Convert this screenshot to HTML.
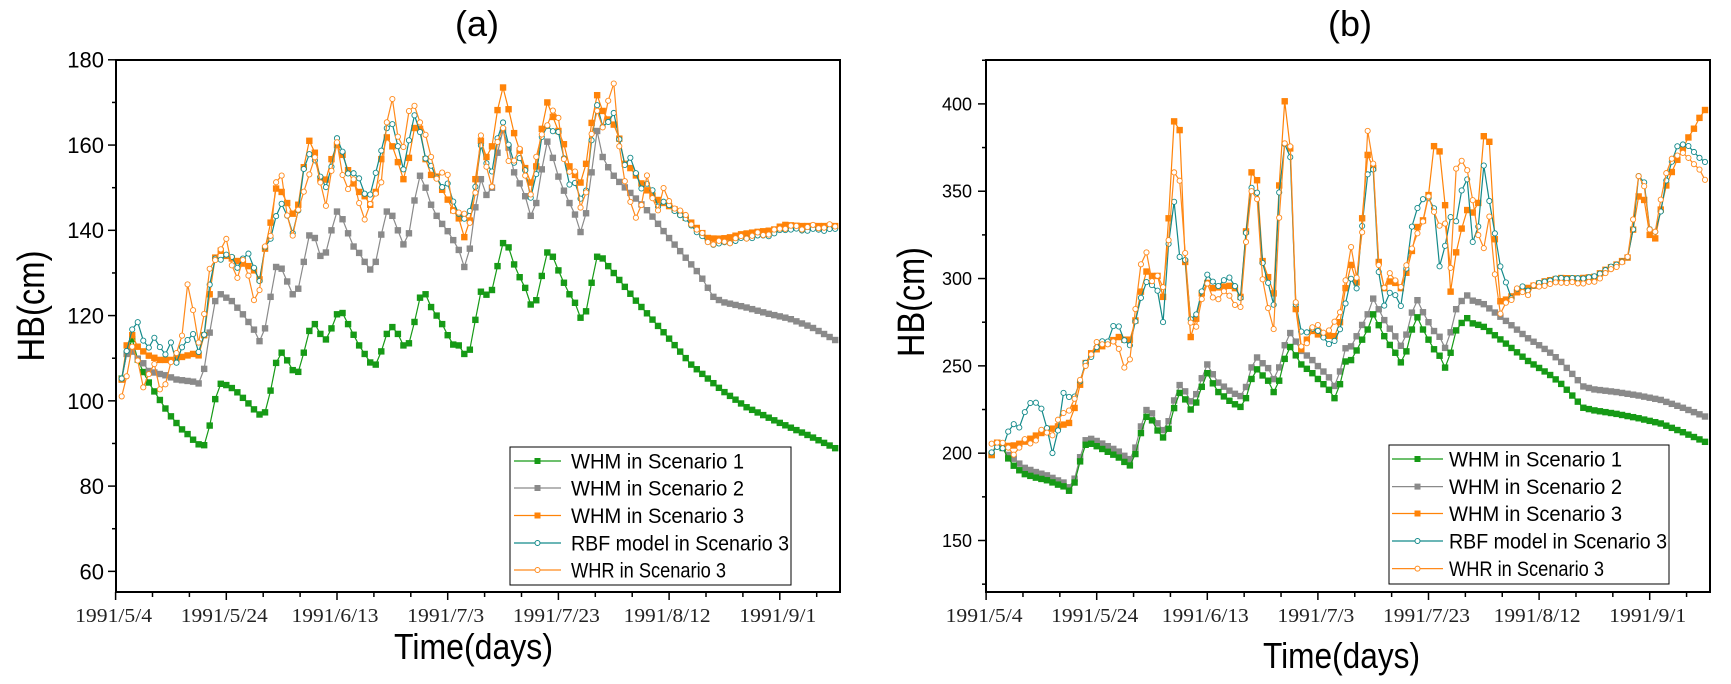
<!DOCTYPE html>
<html><head><meta charset="utf-8"><style>
html,body{margin:0;padding:0;background:#fff;}
svg{display:block;}
text{font-family:"Liberation Sans",sans-serif;}
.xl{font-family:"Liberation Serif",serif;font-size:20px;fill:#222;}
</style></head><body>
<svg id="s" width="1731" height="684" viewBox="0 0 1731 684" xmlns="http://www.w3.org/2000/svg">
<rect width="1731" height="684" fill="#fff"/>
<text x="477" y="36" font-size="36" text-anchor="middle">(a)</text>
<text x="1350" y="36" font-size="36" text-anchor="middle">(b)</text>
<text transform="translate(44,306) rotate(-90)" font-size="38" text-anchor="middle" textLength="111" lengthAdjust="spacingAndGlyphs">HB(cm)</text>
<text transform="translate(924,302) rotate(-90)" font-size="38" text-anchor="middle" textLength="110" lengthAdjust="spacingAndGlyphs">HB(cm)</text>
<text x="394" y="659" font-size="36" textLength="159" lengthAdjust="spacingAndGlyphs">Time(days)</text>
<text x="1263" y="668" font-size="36" textLength="157" lengthAdjust="spacingAndGlyphs">Time(days)</text>
<g id="g"></g>
</svg>
<script>
var NS="http://www.w3.org/2000/svg",G=document.getElementById('g');
function el(t,a,txt){var e=document.createElementNS(NS,t);for(var k in a)e.setAttribute(k,a[k]);if(txt!=null)e.textContent=txt;G.appendChild(e);return e;}
function interp(kp,d){for(var i=0;i<kp.length-2;i+=2){if(d<=kp[i+2]){var t=(d-kp[i])/(kp[i+2]-kp[i]);return kp[i+1]+t*(kp[i+3]-kp[i+1]);}}return kp[kp.length-1];}
function daily(kp){var r=[[kp[0],kp[1]]];for(var d=Math.ceil(kp[0]+0.01);d<=kp[kp.length-2];d++)r.push([d,interp(kp,d)]);return r;}
function derive(base,dk,amp,ph){return base.map(function(p){return [p[0],p[1]+interp(dk,p[0])+amp*Math.sin(p[0]*1.9+ph)*(p[0]<100?1:0.15)];});}
function plot(P,pts,col,mk,lw){
 var s="";pts.forEach(function(p,i){s+=(i?"L":"M")+P.x(p[0]).toFixed(1)+","+P.y(p[1]).toFixed(1);});
 el('path',{d:s,fill:'none',stroke:col,'stroke-width':lw||1.2});
 pts.forEach(function(p){var x=P.x(p[0]),y=P.y(p[1]);
  if(mk=='sq')el('rect',{x:x-3.2,y:y-3.2,width:6.4,height:6.4,fill:col});
  else el('circle',{cx:x,cy:y,r:2.6,fill:'#fff',stroke:col,'stroke-width':0.9});});
}
function axes(P,ymin,ymax,ymaj,ymin2,labelsY,fs,lx){
 var L=P.L,R=P.R,T=P.T,B=P.B;
 el('rect',{x:L,y:T,width:R-L,height:B-T,fill:'none',stroke:'#000','stroke-width':2});
 for(var v=ymin;v<=ymax;v+=ymin2){var y=P.y(v);if(y<T-1||y>B+1)continue;var maj=labelsY.indexOf(v)>=0;
  el('line',{x1:L,x2:L-(maj?8:4),y1:y,y2:y,stroke:'#000','stroke-width':1.5});
  if(maj)el('text',{x:lx,y:y+fs*0.36,'font-size':fs,'text-anchor':'end'},String(v));}
 var labs=["1991/5/4","1991/5/24","1991/6/13","1991/7/3","1991/7/23","1991/8/12","1991/9/1"];
 for(var k=0;k<=19;k++){var d=k*20/3;var x=P.x(d);if(x>R+1)break;var maj=(k%3==0);
  el('line',{x1:x,x2:x,y1:B,y2:B+(maj?8:5),stroke:'#000','stroke-width':1.5});
  if(maj){var lab=labs[k/3];el('text',{x:x-2,y:622,'class':'xl','text-anchor':'middle',textLength:lab.length>8?87:77,lengthAdjust:'spacingAndGlyphs'},lab);}}
}
function legend(x0,y0,w,h,ys,lx1,lx2,tx){
 el('rect',{x:x0,y:y0,width:w,height:h,fill:'#fff',stroke:'#000','stroke-width':1});
 var items=[["WHM in Scenario 1","#169a16","sq"],["WHM in Scenario 2","#8a8a8a","sq"],["WHM in Scenario 3","#ff8308","sq"],["RBF model in Scenario 3","#138a8a","ci"],["WHR in Scenario 3","#ff8a1c","ci"]];
 items.forEach(function(it,i){var y=ys[i];el('line',{x1:lx1,x2:lx2,y1:y,y2:y,stroke:it[1],'stroke-width':1.2});
  var mx=(lx1+lx2)/2;
  if(it[2]=='sq')el('rect',{x:mx-3,y:y-3,width:6,height:6,fill:it[1]});else el('circle',{cx:mx,cy:y,r:2.5,fill:'#fff',stroke:it[1]});
  el('text',{x:tx,y:y+7.5,'font-size':21,textLength:(i==3?218:(i==4?155:173)),lengthAdjust:'spacingAndGlyphs'},it[0]);});
}
var A={L:116,R:840,T:60,B:592,x:function(d){return 115.6+d*5.535;},y:function(v){return 59.8+(180-v)*4.263;}};
axes(A,60,180,20,10,[60,80,100,120,140,160,180],22,104);
var gA=[1.1,105.2,2.3,113,3.1,114.7,3.9,110,4.9,107,6,104.3,7.1,102,8.1,100,9.1,98,10.2,96,11.2,94.5,12.2,93,13.2,92,14.2,90.6,15.2,89.6,16.2,89.6,17,94.2,18,100.4,19,104,20,103.7,21,103,22,102,23,100.7,24,99.4,25,98,26,96.8,27,97.3,28,102.4,29,108.9,30,111.3,31,109.5,32,107.2,33,106.8,34,111.3,35,116.4,36,118,37,115.7,38,114.4,39,117,40,120.3,41,120.6,42,118,43,115.5,44,113,45,111,46,109,47,108.5,48,111.6,49,115.7,50,117.3,51,115.7,52,113,53,113.5,54,118.5,55,124.2,56,125,57,122,58,120,59,118,60,115.4,61,113.2,62,113,63,111,64,112,65,119,66,125.6,67,124.9,68,126,69,131.6,70,137,71,136,72,132,73,129,74,126.5,75,122.6,76,123.6,77,129.3,78,134.8,79,133.8,80,130.6,81,127.7,82,125,83,123,84,119.5,85,121,86,127.7,87,133.8,88,133.4,89,131.6,94,123.5,99.6,115.2,104,108.5,109.6,102.4,114,98.5,119.7,95,125,92,130.8,88.4];
var sA=[1.1,105,2.3,113,3.6,110.3,4.9,109,6,107,8,106.3,9,106,11,105,14,104.5,15.2,104,16,107.5,17,116,18,123.4,19,125,21,123.4,23,120.3,25,116.7,26,114,27,117,28,124.4,29,131.4,30,131,31,128,32,125,33,126.3,34,132.6,35,138.8,36,138.2,37,134,38,134.8,39,140,40,144.4,41,142.6,42,139.3,43,136.2,44,134.7,45,132.6,46,130.8,47,132.6,48,139,49,144.4,50,143.4,51,140,52,136.7,53,139.3,54,147,55,152.8,56,150,57,146,58,143.4,59,141.5,60,139.8,61,137.7,62,135.4,63,131.4,64,135.7,65,145.4,66,152,67,148.3,68,150,69,158.2,70,163.5,71,159.4,72,153.6,73,151,74,148,75,143.4,76,146.4,77,154.3,78,160.8,79,157,80,152.6,81,149.3,82,146.4,83,143.7,84,139.6,85,144,86,153.6,87,163.3,88,157.2,89.5,153.6,90.5,152,93.6,148,96.6,143.9,99.6,138.8,102.6,134.2,105.6,129.5,108,124.4,109.6,123.2,113.7,122,117.7,120.5,121.7,119.3,125.7,117.3,130.8,113.7];
var oA=[1.1,105,2,113,3,115.4,4,112.7,5,111.6,6,110.6,8,109.6,10,109.6,12,110.3,14,111,15.2,110.6,16,115.4,17,125,18,133.6,19,135.2,20,134,22,132.8,24,131.6,25,130.6,26,128.5,27,135.7,28,141.8,29,149.8,30,149,31,146.4,32,143.9,33,146,34,154.8,35,161,36,158.2,37,152,38,151.9,39,156.7,40,160,41,157.7,42,154.1,43,151,44,149,45,148,46,146,47,149,48,156.7,49,161.8,50,159.7,51,156,52,152,53,157,54,164,55,163.8,56,156.7,57,153,58,152.6,59,149.5,60,147.2,61,144.7,62,142.8,63,138.4,64,142.3,65,152,66,161,67,157.2,68,159.7,69,168.2,70,173.5,71,168.4,72,162.8,73,158.7,74,154.6,75,151.2,76,155,77,163.8,78,170,79,166.6,80,163.3,81,160.2,82,155,83,153,84,151.2,85,155.6,86,165.2,87,171.7,88,168,89,166,90,164.8,91,161.5,92,155.6,93,154.6,94.5,152,95.5,150,97.6,147.4,99.6,146,101.6,144.4,103.6,142.3,105.6,139.8,107,138.2,108.6,138,110.6,138.2,112.7,139,115.7,139.6,118.7,140,120.7,141.3,123.7,141,130.8,141];
var OA=daily(oA);
var tA=derive(OA,[0,-2,3,1.5,4,4,6,3,10,3,11,-2,12,4,14,3,16,1,20,-1,25,2,29,-5,33,-2,38,-1,44,2,52,4,56,0,60,2,63,3,69,-6,70,-10,74,-1,78,-4,80,-2,86,-5,90,1,100,0,108,-1.2,131,-0.8],1.8,0.5);
var wA=derive(OA,[0,-2,3,-5,5,-5,10,-4,12,8,13,14,14,9,16,4,24,-3,26,-4,29,2,34,-6,36,-3,48,-2,50,8,52,9,56,3,60,3,63,2,67,-3,70,-12,74,0,78,-2,80,1,86,-6,89,2,90,8,93,-11,96,0,100,1,108,-1,131,0],3.5,1.3);
plot(A,daily(gA),"#169a16","sq");
plot(A,daily(sA),"#8a8a8a","sq");
plot(A,OA,"#ff8308","sq");
plot(A,tA,"#138a8a","ci");
plot(A,wA,"#ff8a1c","ci");
legend(510,447,281,138,[461,488,515.5,543,570],514,561,571);
var B={L:986,R:1710,T:60,B:592,x:function(d){return 986.1+d*5.53;},y:function(v){return 103.9+(400-v)*1.7464;}};
axes(B,125,425,50,25,[150,200,250,300,350,400],18,972);
var gB=[1,199,2,206,3,203,4,197,5.2,192,7,188,9,186,11,184.5,13,182,14,181,15.2,178,16.2,184.5,17.2,198,18.2,206.5,20,204,22,200.8,24,197.5,25,195,26,193,27,199.5,28,211.5,29,220.8,30,218.8,31,213,32,209,33,214,34,225.8,35,234.5,36,230.8,37,225,38,229,39,238,40,245.8,41,240,42,235,43,232.5,44,230,45,228,46,226.5,47,231.5,48,242.5,49,248,50,244.5,51,241.5,52,235,53,241.5,54,254,55,260.8,56,256,57,250.8,58,248.3,59,245.8,60,242.5,61,239.5,62,236.3,63,231.5,64,239.5,65,252.5,66,253.3,67,258.8,68,265,69,270.8,70,279.5,71,273.3,72,267,73,262,74,257.5,75,252,76,258.3,77,270.8,78,277.8,79,270.8,80,265,81,259.5,82,255.8,83,249,84,257.5,85,270.3,86.8,278,87.8,274.5,89.8,272.8,91.8,268,93.9,263,95.9,258,97.9,253,99.9,249,101.9,245,103.9,240,106,233,108,226,110,224.5,114,222.5,118,220,122,217,126,212,130,206.5];
var GB=daily(gB);
var SB=GB.map(function(p){return [p[0],p[1]+interp([0,0,3,0,5,4,15,2,20,3,30,4,40,5,50,7,55,8,63,7,70,9,80,10,87,13,100,13,110,12,130,14.5],p[0])];});
var oB=[1,199,2,206,3.3,204,5.3,204.5,7.3,207,9.4,210.8,11.4,213.3,13.4,215.8,15.2,217.5,16.2,228,17.2,242,18.2,254,19.2,258,20,259.5,22,263,24,266.5,25,265,26,265,27,276,28,292.5,29,304,30,301.5,31,301.5,32,289.5,33,334.5,34,390,35,385,36,309.5,37,266.5,38,277,39,291.5,40,297.5,41,294.5,44,295.8,45,294.5,46,289.5,47,327,48,360.8,49,356.3,50,310,51,300.8,52,291.5,53,353.3,54,401.5,55,374.5,56,282.5,57,259.5,58,265,59,270,60,268,61,267.5,63,267,64,275,65,294.5,66,307.8,67,297.8,68,334.5,69,370.8,70,363.3,71,309.5,72,294.5,73,298.3,74,297.5,75,294.5,76,303.3,77,315.8,78,329.5,79,333.3,80,347.8,81,375.8,82,372.8,83,342,84,292.5,85,315,86.8,339.5,88,337.8,89,343.3,90,381.5,91,378.3,92,322.5,93,287,94.4,288.3,95.9,292,97.9,294.5,100.9,298.3,103.9,300.3,107,300,110,301,112,305,114,308,116,312,117,328,118,347,119,345,120,325,121,323,122,339.5,123,353.3,124,361,125,368,126,374.5,127,380.8,128,385.8,129,392,130,396.5];
var OB=daily(oB);
var tB=derive(OB,[0,0,3,-1,4,6,5,13,6,11,7,15,8,20,9,21,10,13,11,0,12,-12,13,-2,14,16,15,16,16,8,17,0,20,0,22,3,23,8,24,4,26,-2,29,-4,33,-15,34,-48,35,-71,36,2,37,8,38,3,40,3,45,3,47,-3,48,-8,50,-3,53,-5,54,-26,55,-3,56,3,57,8,60,0,66,-8,68,-3,69,-10,70,-3,72,-8,75,-8,77,12,79,13,80,-4,81,-35,82,-64,83,-25,84,42,85,20,86.8,22,88,-15,89,-13,90,-19,91,-33,92,5,93,18,95,1,100,0,117,0,118,12,119,10,120,3,121,4,122,-1,124,6,125,8,126,2,127,-5,128,-13,129,-23,130,-30],2.2,0.3);
var wB=derive(OB,[0,9,2,3,4,-3,8,-1,12,-1,14,5,15,10,17,0,22,2,25,-13,26,-12,27,4,28,18,29,12,30,-6,32,8,33,-15,34,-30,35,-26,36,4,37,6,38,-2,47,-8,48,-8,54,-24,55,4,57,0,66,8,68,-5,69,13,70,0,75,3,80,-3,81,-35,82,-42,84,15,85,50,86.8,25,88,10,89,-20,90,-66,91,-40,92,-20,94,0,100,-2,110,-3,116,0,118,12,120,3,124,8,126,-3,128,-20,130,-40],3,1.1);
plot(B,SB,"#8a8a8a","sq");
plot(B,GB,"#169a16","sq");
plot(B,OB,"#ff8308","sq");
plot(B,tB,"#138a8a","ci");
plot(B,wB,"#ff8a1c","ci");
legend(1389,445,280,139,[459,486.6,513.5,541,568.6],1392,1443,1449);
</script>
</body></html>
